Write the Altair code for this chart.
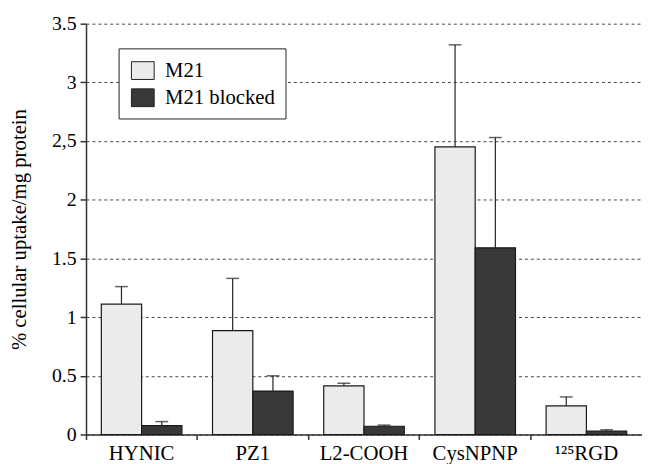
import altair as alt
import pandas as pd

categories = ["HYNIC", "PZ1", "L2-COOH", "CysNPNP", "¹²⁵RGD"]
series = ["M21", "M21 blocked"]
m21_mean = [1.11, 0.885, 0.414, 2.45, 0.244]
m21_sd = [0.15, 0.445, 0.022, 0.87, 0.076]
blocked_mean = [0.076, 0.37, 0.07, 1.59, 0.03]
blocked_sd = [0.034, 0.13, 0.01, 0.94, 0.01]
y_ticks = [0, 0.5, 1, 1.5, 2, 2.5, 3, 3.5]
colors = ["#ebebeb", "#383838"]

rows = []
for i, c in enumerate(categories):
    rows.append({"cat": c, "series": series[0], "mean": m21_mean[i], "hi": m21_mean[i] + m21_sd[i]})
    rows.append({"cat": c, "series": series[1], "mean": blocked_mean[i], "hi": blocked_mean[i] + blocked_sd[i]})
df = pd.DataFrame(rows)

FONT = "Liberation Serif"
W, H = 563, 416

x_enc = alt.X(
    "cat:N",
    sort=categories,
    scale=alt.Scale(domain=categories, paddingInner=0, paddingOuter=0),
    axis=alt.Axis(
        title=None, bandPosition=0, tickSize=5, labelPadding=3, labelAngle=0,
        labelFont=FONT, labelFontSize=21, labelColor="black",
        domainColor="#333", domainWidth=1.5, tickColor="#333", tickWidth=1.5,
        grid=False,
    ),
)
xo_enc = alt.XOffset("series:N", sort=series,
                     scale=alt.Scale(domain=series, paddingInner=0, paddingOuter=0.38))
y_enc = alt.Y(
    "mean:Q",
    scale=alt.Scale(domain=[0, 3.5], nice=False, zero=True),
    axis=alt.Axis(
        values=y_ticks,
        labelExpr="datum.value == 2.5 ? '2,5' : format(datum.value, '~g')",
        title="% cellular uptake/mg protein",
        titleFont=FONT, titleFontSize=21, titleFontWeight="normal", titleColor="black",
        titleX=-61, titleY=H / 2, titleBaseline="alphabetic",
        labelFont=FONT, labelFontSize=20, labelColor="black", labelPadding=4,
        tickSize=6, tickColor="#333", tickWidth=1.5,
        domainColor="#333", domainWidth=1.5,
        grid=True, gridDash=[3, 3], gridColor="#444", gridWidth=1,
    ),
)

bars = alt.Chart(df).mark_bar(stroke="#1a1a1a", strokeWidth=1.2).encode(
    x=x_enc,
    xOffset=xo_enc,
    y=y_enc,
    color=alt.Color(
        "series:N",
        sort=series,
        scale=alt.Scale(domain=series, range=colors),
        legend=alt.Legend(
            title=None, orient="none", legendX=33, legendY=25,
            strokeColor="#222", fillColor="white", padding=10,
            symbolType="M-0.96,-0.75H0.96V0.75H-0.96Z", symbolSize=576,
            symbolOffset=2,
            symbolStrokeColor="#222", symbolStrokeWidth=1,
            labelFont=FONT, labelFontSize=21, labelColor="black",
            labelOffset=10, rowPadding=3.5,
        ),
    ),
)

err = alt.Chart(df).mark_rule(color="#222", strokeWidth=1.2).encode(
    x=alt.X("cat:N", sort=categories),
    xOffset=alt.XOffset("series:N", sort=series),
    y="mean:Q",
    y2="hi:Q",
)

caps = alt.Chart(df).mark_tick(color="#222", thickness=1.5, size=13).encode(
    x=alt.X("cat:N", sort=categories),
    xOffset=alt.XOffset("series:N", sort=series),
    y="hi:Q",
)

chart = alt.layer(bars, err, caps).properties(
    width=W, height=H,
    autosize=alt.AutoSizeParams(type="none"),
    padding={"left": 79, "top": 13, "right": 0, "bottom": 27},
).configure_view(stroke=None)

chart.save("out.html", embed_options={"renderer": "svg", "actions": False})
